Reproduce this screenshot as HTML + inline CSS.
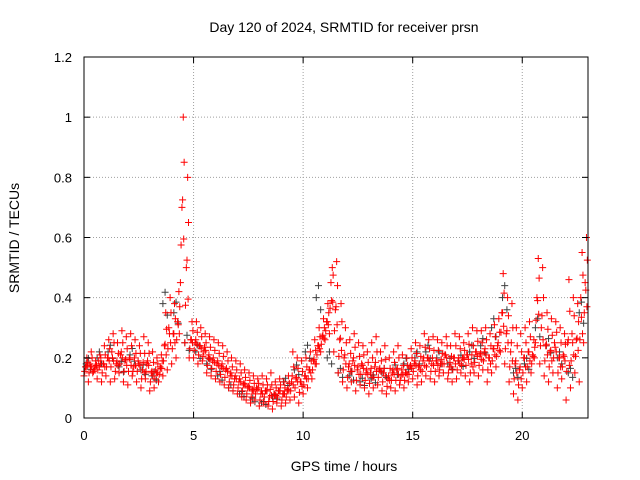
<!DOCTYPE html>
<html><head><meta charset="utf-8"><style>
body{margin:0;background:#fff}
svg{display:block;font-family:"Liberation Sans",sans-serif}
</style></head><body>
<svg id="chart" width="640" height="480" viewBox="0 0 640 480">
<text x="344" y="32" font-size="14" text-anchor="middle">Day 120 of 2024, SRMTID for receiver prsn</text>
<g id="grid"></g>
<g id="gray"></g>
<g id="red"></g>
<g id="axes"></g>
<text transform="translate(19,238) rotate(-90)" font-size="14" text-anchor="middle">SRMTID / TECUs</text>
<text x="344" y="471" font-size="14" text-anchor="middle">GPS time / hours</text>
</svg>
<script>
const xTicks=[0,5,10,15,20];
const yTicks=[0,0.2,0.4,0.6,0.8,1,1.2];
const yTickLabels=["0","0.2","0.4","0.6","0.8","1","1.2"];
const redHi=[.20,.22,.19,.21,.24,.26,.28,.25,.29,.27,.28,.26,.24,.27,.25,.22,.20,.21,.35,.40,.38,.42,1.0,.80,.32,.32,.30,.28,.27,.26,.25,.24,.22,.20,.19,.18,.16,.15,.14,.13,.14,.13,.15,.12,.13,.12,.14,.22,.20,.19,.20,.22,.26,.30,.33,.38,.50,.52,.38,.30,.26,.28,.25,.24,.22,.25,.27,.22,.24,.20,.22,.24,.21,.20,.23,.25,.24,.28,.26,.27,.26,.25,.27,.24,.28,.27,.25,.28,.30,.29,.29,.30,.28,.31,.33,.48,.40,.38,.30,.28,.30,.32,.26,.53,.50,.35,.33,.32,.30,.28,.46,.40,.38,.55,.60];
const redLo=[.14,.12,.15,.13,.12,.14,.12,.13,.15,.12,.11,.14,.12,.10,.13,.09,.10,.12,.14,.16,.18,.20,.45,.25,.20,.20,.18,.19,.15,.14,.13,.12,.11,.10,.09,.08,.07,.06,.05,.06,.04,.05,.04,.03,.05,.04,.05,.06,.07,.05,.08,.10,.13,.18,.22,.26,.28,.22,.15,.12,.10,.12,.09,.11,.10,.08,.10,.11,.09,.08,.10,.09,.11,.10,.12,.13,.11,.12,.14,.13,.12,.14,.15,.13,.12,.13,.15,.14,.12,.15,.14,.16,.12,.15,.17,.22,.18,.12,.08,.06,.10,.12,.15,.25,.18,.14,.12,.15,.10,.13,.06,.10,.15,.12,.25];
const redMid=[.17,.18,.16,.19,.18,.20,.22,.18,.21,.19,.20,.17,.19,.16,.18,.15,.16,.17,.24,.30,.28,.32,.70,.50,.26,.25,.24,.22,.20,.19,.18,.17,.16,.14,.13,.12,.11,.10,.09,.10,.08,.09,.07,.08,.09,.08,.09,.12,.13,.12,.14,.16,.19,.24,.27,.32,.45,.36,.26,.20,.17,.19,.16,.18,.15,.15,.17,.16,.15,.13,.15,.16,.14,.15,.17,.18,.17,.19,.20,.18,.19,.18,.21,.17,.20,.19,.20,.21,.18,.22,.21,.22,.20,.23,.24,.35,.28,.22,.18,.16,.20,.22,.21,.40,.30,.24,.22,.25,.20,.21,.25,.28,.26,.40,.45];
const gray=[.18,.20,.22,.17,.21,.16,.14,.38,.35,.25,.22,.18,.14,.10,.08,.06,.05,.07,.12,.16,.22,.40,.20,.15,.14,.12,.13,.15,.16,.18,.20,.22,.20,.18,.19,.22,.24,.30,.40,.15,.18,.30,.24,.20,.15,.35];
const X0=84,X1=588,Y0=418,Y1=57,XMAX=23,YMAX=1.2;
const sx=v=>X0+v/XMAX*(X1-X0), sy=v=>Y0-v/YMAX*(Y0-Y1);
const NS="http://www.w3.org/2000/svg";
function mk(t,a,p){const e=document.createElementNS(NS,t);for(const k in a)e.setAttribute(k,a[k]);p.appendChild(e);return e;}
const grid=document.getElementById('grid'),axes=document.getElementById('axes');
xTicks.forEach(v=>{const x=sx(v);
 if(v>0){const l=mk('line',{x1:x,x2:x,y1:Y1,y2:Y0,stroke:'#a0a0a0','stroke-dasharray':'1,2'},grid);}
 mk('line',{x1:x,x2:x,y1:Y0,y2:Y0-6,stroke:'#000'},axes);mk('line',{x1:x,x2:x,y1:Y1,y2:Y1+6,stroke:'#000'},axes);
 const t=mk('text',{x:x,y:Y0+22,'font-size':13,'text-anchor':'middle'},axes);t.textContent=v;
 });
yTicks.forEach((v,i)=>{const y=sy(v);
 if(v>0&&v<YMAX){const l=mk('line',{x1:X0,x2:X1,y1:y,y2:y,stroke:'#a0a0a0','stroke-dasharray':'1,2'},grid);}
 mk('line',{x1:X0,x2:X0+6,y1:y,y2:y,stroke:'#000'},axes);mk('line',{x1:X1,x2:X1-6,y1:y,y2:y,stroke:'#000'},axes);
 const t=mk('text',{x:X0-12,y:y+5,'font-size':13,'text-anchor':'end'},axes);t.textContent=yTickLabels[i];
 });
mk('rect',{x:X0,y:Y1,width:X1-X0,height:Y0-Y1,fill:'none',stroke:'#000'},axes);
function plus(g,t,v,c){const x=sx(t),y=sy(v);
 const p=mk('path',{d:`M${x-3.5},${y}H${x+3.5}M${x},${y-3.5}V${y+3.5}`,stroke:c,'stroke-width':1},g);
 }
const gG=document.getElementById('gray'),gR=document.getElementById('red');
gray.forEach((v,i)=>plus(gG,i*0.5+0.1,v,'#404040'));
gray.forEach((v,i)=>plus(gG,i*0.5+0.3,v*0.9,'#404040'));
gray.forEach((v,i)=>plus(gG,i*0.5+0.2,v*1.1,'#404040'));
redLo.forEach((v,i)=>plus(gR,i*0.2,v,'#ff0000'));
redMid.forEach((v,i)=>plus(gR,i*0.2+0.07,v,'#ff0000'));
redHi.forEach((v,i)=>plus(gR,i*0.2+0.13,v,'#ff0000'));
redMid.forEach((v,i)=>plus(gR,i*0.2+0.17,(v+redHi[i])/2,'#ff0000'));
redMid.forEach((v,i)=>plus(gR,i*0.2+0.03,(v+redLo[i])/2,'#ff0000'));
redHi.forEach((v,i)=>plus(gR,i*0.2+0.1,(v+redLo[i])/2,'#ff0000'));
redLo.forEach((v,i)=>plus(gR,i*0.2+0.15,(v+redMid[i])/2+0.02,'#ff0000'));
</script>
</body></html>
